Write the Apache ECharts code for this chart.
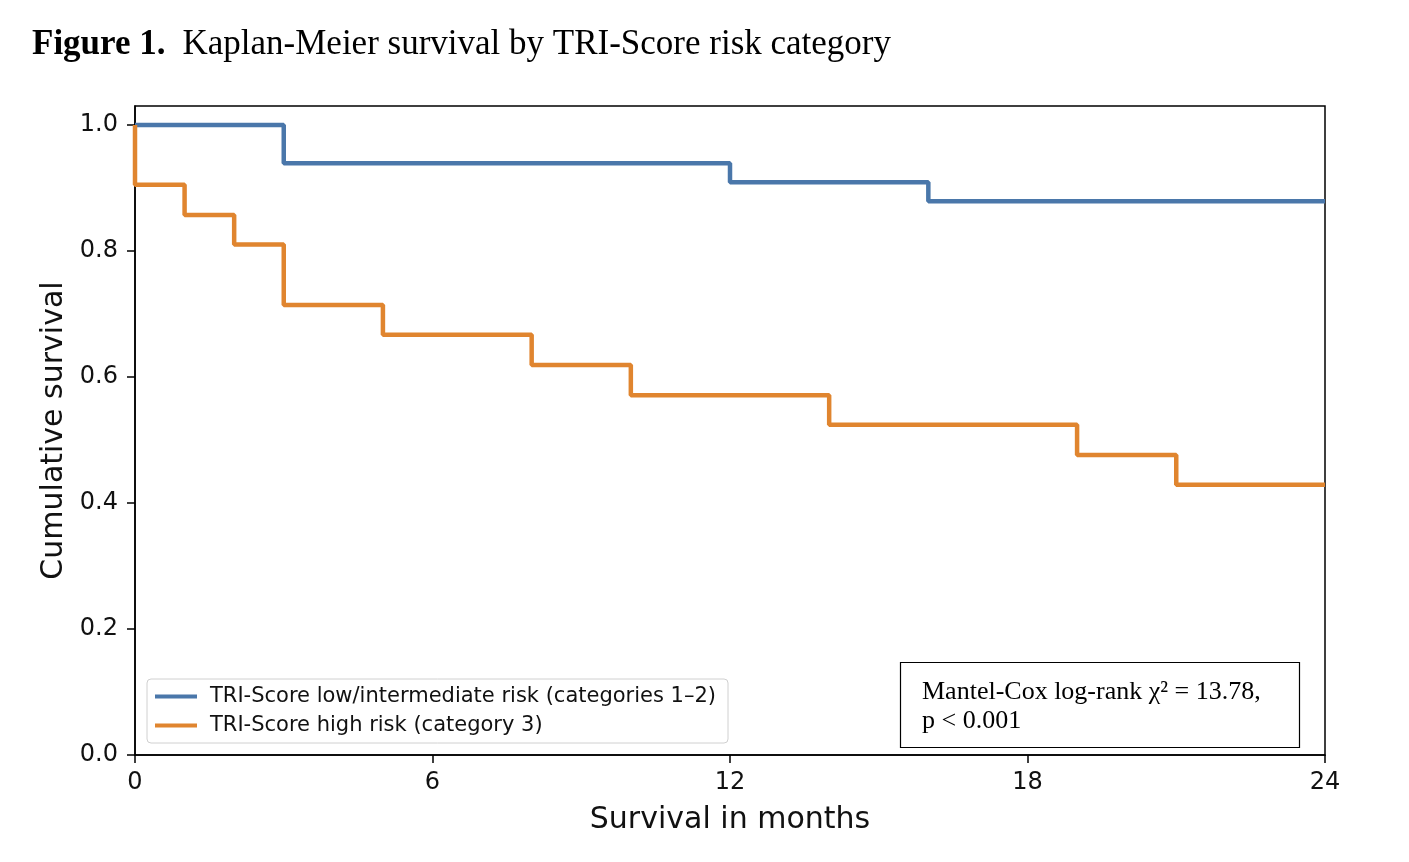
<!DOCTYPE html>
<html>
<head>
<meta charset="utf-8">
<script src="https://cdn.jsdelivr.net/npm/echarts@6/dist/echarts.min.js"></script>
<style>
  html, body { margin: 0; padding: 0; background: #fff; }
  #chart { width: 1409px; height: 862px; }
</style>
</head>
<body>
<div id="chart"></div>
<script>
// Survival data (months, cumulative survival)
const lowTimes = [0, 3, 12, 16, 24];
const lowSurv = [1.0, 0.939, 0.909, 0.879, 0.879];

const highTimes = [0, 0, 1, 2, 3, 5, 8, 10, 14, 19, 21, 24];
const highSurv = [1.0, 0.905, 0.857, 0.810, 0.714, 0.667, 0.619, 0.571, 0.524, 0.476, 0.429, 0.429];

const xTicks = [0, 6, 12, 18, 24];
const yTicks = [0, 0.2, 0.4, 0.6, 0.8, 1.0];

const seriesNames = [
    'TRI-Score low/intermediate risk (categories 1\u20132)',
    'TRI-Score high risk (category 3)'
];

const statLines = ['Mantel-Cox log-rank \u03c7\u00b2 = 13.78,', 'p < 0.001'];

const pairs = (xs, ys) => xs.map((x, i) => [x, ys[i]]);

const chart = echarts.init(document.getElementById('chart'));

const sans = 'DejaVu Sans';
const serif = 'Liberation Serif';

const option = {
    animation: false,
    backgroundColor: '#fff',
    title: {
        left: 27,
        top: 22,
        text: '{b|Figure 1.}{n|Kaplan-Meier survival by TRI-Score risk category}',
        textStyle: {
            rich: {
                b: { fontFamily: serif, fontWeight: 'bold', fontSize: 35, color: '#000', padding: [0, 17, 0, 0] },
                n: { fontFamily: serif, fontWeight: 'normal', fontSize: 35, color: '#000' }
            }
        }
    },
    grid: {
        left: 135, right: 84, top: 106, bottom: 107,
        show: true, borderColor: '#000', borderWidth: 1.5,
        backgroundColor: 'transparent'
    },
    legend: {
        orient: 'vertical',
        left: 147,
        top: 679,
        data: seriesNames,
        icon: 'rect',
        itemWidth: 42,
        itemHeight: 4,
        itemGap: 8,
        padding: [7, 12, 7, 8],
        backgroundColor: '#fff',
        borderColor: '#d0d0d0',
        borderWidth: 1,
        borderRadius: 4,
        textStyle: { fontFamily: sans, fontSize: 21, color: '#111', padding: [0, 0, 0, 8] }
    },
    xAxis: {
        type: 'value',
        min: 0, max: 24, interval: 6,
        name: 'Survival in months',
        nameLocation: 'middle',
        nameGap: 50,
        nameTextStyle: { fontFamily: sans, fontSize: 30, color: '#111' },
        axisLine: { show: true, lineStyle: { color: '#000', width: 1.5 } },
        axisTick: { show: true, length: 8, lineStyle: { color: '#000', width: 1.5 }, customValues: xTicks },
        axisLabel: { fontFamily: sans, fontSize: 24, color: '#111', margin: 16, customValues: xTicks },
        splitLine: { show: false }
    },
    yAxis: {
        type: 'value',
        min: 0, max: 1.03,
        name: 'Cumulative survival',
        nameLocation: 'middle',
        nameGap: 63,
        nameRotate: 90,
        nameTextStyle: { fontFamily: sans, fontSize: 30, color: '#111' },
        axisLine: { show: true, lineStyle: { color: '#000', width: 1.5 } },
        axisTick: { show: true, length: 8, lineStyle: { color: '#000', width: 1.5 }, customValues: yTicks },
        axisLabel: {
            fontFamily: sans, fontSize: 24, color: '#111', margin: 17,
            customValues: yTicks,
            formatter: v => v.toFixed(1)
        },
        splitLine: { show: false }
    },
    series: [
        {
            name: seriesNames[0],
            type: 'line',
            step: 'end',
            showSymbol: false,
            color: '#4a77aa',
            lineStyle: { width: 4.5, color: '#4a77aa' },
            data: pairs(lowTimes, lowSurv)
        },
        {
            name: seriesNames[1],
            type: 'line',
            step: 'end',
            showSymbol: false,
            color: '#e0852f',
            lineStyle: { width: 4.5, color: '#e0852f' },
            data: pairs(highTimes, highSurv)
        }
    ],
    graphic: [
        {
            type: 'rect',
            shape: { x: 900.5, y: 662.5, width: 399, height: 85 },
            style: { fill: '#fff', stroke: '#000', lineWidth: 1.2 },
            z: 100
        },
        {
            type: 'text',
            left: 922,
            top: 678,
            style: {
                text: statLines.join('\n'),
                font: '26px "Liberation Serif"',
                lineHeight: 29,
                fill: '#000'
            },
            z: 101
        }
    ]
};

chart.setOption(option);
</script>
</body>
</html>
